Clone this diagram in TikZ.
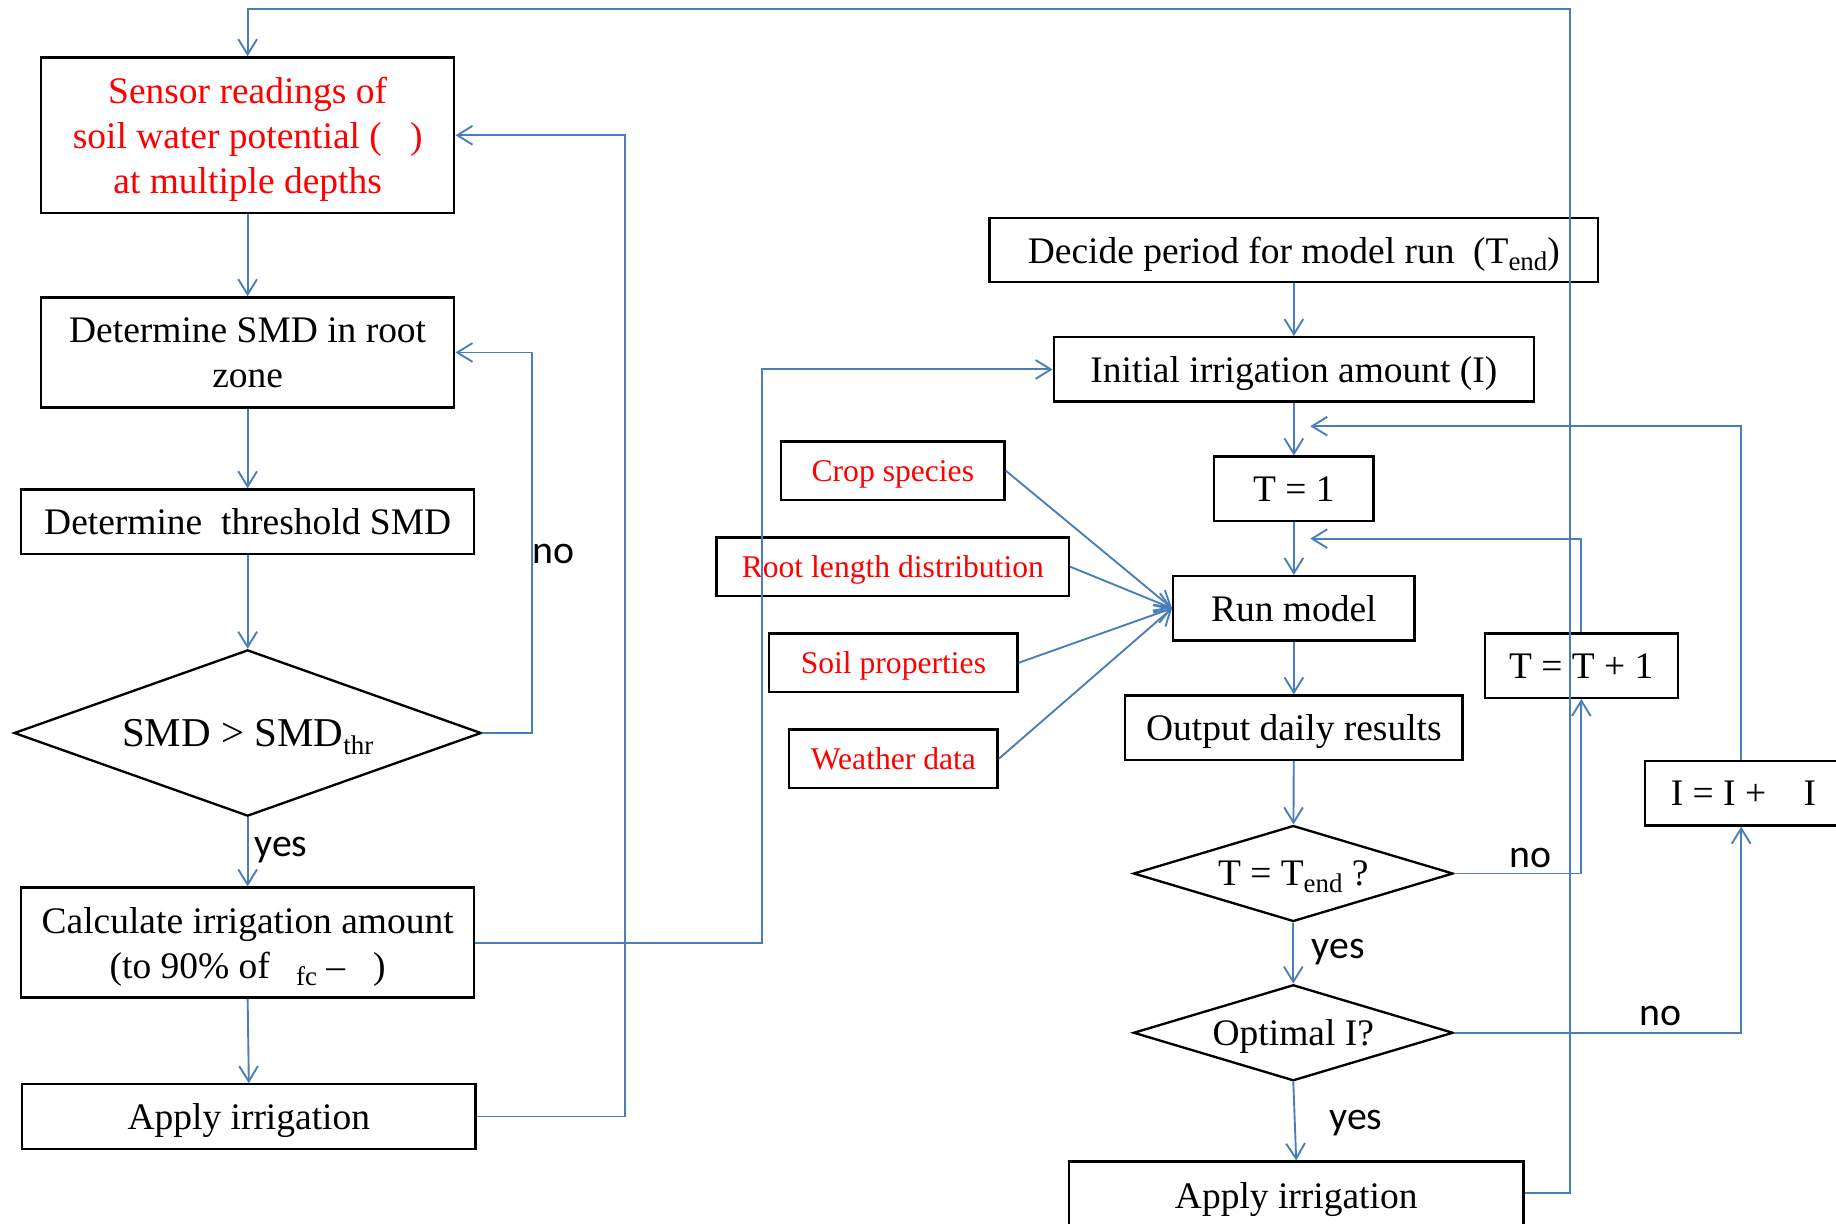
\documentclass[tikz,border=0pt]{standalone}
\usepackage{fontspec}
\setmainfont{Liberation Serif}
\newfontfamily\labelfont{Carlito}
\usetikzlibrary{arrows.meta,shapes.geometric}
\definecolor{flowblue}{RGB}{74,126,187}
\newcommand{\lowsub}[1]{\raisebox{-0.4ex}{\fontsize{11.5}{12}\selectfont #1}}
\begin{document}
\begin{tikzpicture}[x=0.5pt,y=-0.5pt,
  box/.style={draw, line width=1pt, inner sep=0pt, align=center, text depth=0pt,
    minimum height=27.5pt, font=\fontsize{16}{19.25}\selectfont},
  redbox/.style={box, text=red},
  inbox/.style={box, text=red, minimum height=25pt, font=\fontsize{13.5}{16}\selectfont},
  decision/.style={draw, diamond, line width=1pt, inner sep=0pt, align=center, text depth=0pt,
    font=\fontsize{16}{19.25}\selectfont},
  flow/.style={draw=flowblue, line width=0.8pt, -{Straight Barb[length=6.5pt,width=8pt]}},
  tag/.style={inner sep=0pt, font=\labelfont\fontsize{17}{20}\selectfont}]

\fill[white] (0,0) rectangle (1568,1045);
\useasboundingbox (0,0) rectangle (1568,1045);

% ---- sensor-based branch ----
\node[redbox, minimum width=176.5pt, minimum height=66.5pt] (sensor) at (211.5,115.5)
  {Sensor readings of\\soil water potential (\hspace{0.75em})\\at multiple depths};
\node[box, minimum width=176.5pt, minimum height=47pt] (smd) at (211.5,301)
  {Determine SMD in root\\zone};
\node[box, minimum width=193.5pt] (thr) at (211.5,445.5) {Determine\ \ threshold SMD};
\node[decision, minimum width=199.5pt, minimum height=71pt, shape aspect=2.8,
  font=\fontsize{17.5}{21}\selectfont] (dec1) at (211.5,626)
  {SMD > SMD\lowsub{thr}};
\node[box, minimum width=193.5pt, minimum height=47pt] (calc) at (211.5,805)
  {Calculate irrigation amount\\(to 90\% of\hspace{0.7em}\lowsub{fc}\hspace{0.25em}–\hspace{0.75em})};
\node[box, minimum width=193.5pt] (apply1) at (212.5,953.5) {Apply irrigation};

% ---- model-based branch ----
\node[box, minimum width=260pt] (decide) at (1105,213.5) {Decide period for model run\ \ (T\lowsub{end})};
\node[box, minimum width=205pt] (init) at (1105,315.5) {Initial irrigation amount (I)};
\node[box, minimum width=68pt] (t1) at (1105,417.5) {T = 1};
\node[box, minimum width=103pt] (run) at (1105,519.5) {Run model};
\node[box, minimum width=144pt] (out) at (1105,621.5) {Output daily results};
\node[decision, minimum width=136.5pt, minimum height=41pt, shape aspect=3.33] (dec2) at (1104.5,746)
  {T = T\lowsub{end} ?};
\node[decision, minimum width=136.5pt, minimum height=41pt, shape aspect=3.33] (dec3) at (1104.5,882)
  {Optimal I?};
\node[box, minimum width=194pt, minimum height=29pt] (apply2) at (1107,1021) {Apply irrigation};
\node[box, minimum width=82.5pt] (tinc) at (1350.5,568.5) {T = T + 1};
\node[box, minimum width=84pt] (iinc) at (1489,677.5) {I = I +\hspace{1em}I};

% ---- model inputs ----
\node[inbox, minimum width=95.5pt] (crop) at (762.5,402) {Crop species};
\node[inbox, minimum width=150.5pt] (root) at (762.5,484) {Root length distribution};
\node[inbox, minimum width=106pt] (soil) at (763,566) {Soil properties};
\node[inbox, minimum width=89pt] (weather) at (763,648) {Weather data};

% ---- branch labels ----
\node[tag] (no1) at (473,473) {no};
\node[tag] (yes1) at (240,726) {yes};
\node[tag] (no2) at (1307,733) {no};
\node[tag] (yes2) at (1143,813) {yes};
\node[tag] (no3) at (1418,868) {no};
\node[tag] (yes3) at (1158,959) {yes};

% ---- connectors, left ----
\draw[flow] (sensor) -- (smd);
\draw[flow] (smd) -- (thr);
\draw[flow] (thr) -- (dec1);
\draw[flow] (dec1) -- (calc);
\draw[flow] (dec1.east) -| ([xshift=32.5pt]smd.east) -- (smd.east);
\draw[flow] (calc.south) -- (apply1.north);
\draw[flow] (apply1.east) -| ([xshift=72.5pt]sensor.east) -- (sensor.east);
\draw[flow] (calc.east) -| ([xshift=-124pt]init.west) -- (init.west);

% ---- connectors, right ----
\coordinate (backT) at (1119,460);
\coordinate (backI) at (1119,364);
\coordinate (topturn) at (1341,8);
\draw[flow] (decide) -- (init);
\draw[flow] (init) -- (t1);
\draw[flow] (t1) -- (run);
\draw[flow] (run) -- (out);
\draw[flow] (out) -- (dec2);
\draw[flow] (dec2) -- (dec3);
\draw[flow] (dec3.south) -- (apply2.north);
\draw[flow] (dec2.east) -| (tinc.south);
\draw[flow] (tinc.north) |- (backT);
\draw[flow] (dec3.east) -| ([xshift=-1pt]iinc.south);
\draw[flow] ([xshift=-1pt]iinc.north) |- (backI);
\draw[flow] ([yshift=1pt]apply2.east) -| (topturn) -| (sensor.north);

% ---- inputs into the model ----
\draw[flow] (crop.east) -- (run.west);
\draw[flow] (root.east) -- (run.west);
\draw[flow] (soil.east) -- (run.west);
\draw[flow] (weather.east) -- (run.west);
\end{tikzpicture}
\end{document}
